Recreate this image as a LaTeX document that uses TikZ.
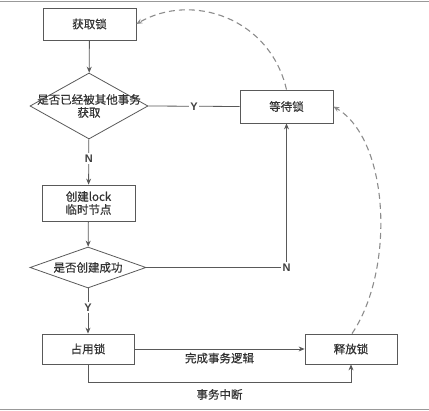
\documentclass[tikz,border=0pt]{standalone}
\usepackage{fontspec}
\setmainfont{Noto Sans CJK SC}[FakeBold=0.6]
\newfontfamily\latinsans{Liberation Sans}
\usepackage{tikz}
\usetikzlibrary{arrows.meta,shapes.geometric,positioning,calc}

\begin{document}
\begin{tikzpicture}[x=1pt,y=-1pt,
  line/.style={draw=black!65, line width=0.8pt},
  arr/.style={line, -{Stealth[length=6pt,width=5pt]}},
  box/.style={line, rectangle, minimum width=93pt, font=\fontsize{11.5}{13}\selectfont, text=black!80, align=center, inner sep=2pt},
  cond/.style={line, diamond, inner sep=0pt, font=\fontsize{11.5}{13}\selectfont, text=black!80},
  yn/.style={font=\latinsans\bfseries\fontsize{11}{12}\selectfont, text=black!75, fill=white, inner sep=1.5pt},
  note/.style={font=\fontsize{11.5}{13}\selectfont, text=black!80},
  back/.style={draw=black!45, line width=1.1pt, dash pattern=on 6pt off 4pt, -{Stealth[length=6pt,width=5pt]}}]
\useasboundingbox (0,0) rectangle (429,411);
% scan border
\draw[black!40, line width=1.5pt] (0,1.5) -- (429,1.5);
\draw[black!40, line width=1.5pt] (0,409.5) -- (429,409.5);
% boxes
\node[box, minimum height=32pt] (get) at (89.5,24) {获取锁};
\node[cond, minimum width=118pt, minimum height=66pt,
  label={[note, align=center]center:是否已经被其他事务\\获取}] (taken) at (89,106) {};
\node[box, minimum height=33pt] (wait) at (286.5,106.5) {等待锁};
\node[box, minimum height=36pt] (create) at (88.5,203) {创建lock\\临时节点};
\node[cond, minimum width=116pt, minimum height=41pt,
  label={[note]center:是否创建成功}] (ok) at (88,267.5) {};
\node[box, minimum width=92pt, minimum height=30pt] (hold) at (88,349) {占用锁};
\node[box, minimum width=92pt, minimum height=30pt] (release) at (351,349) {释放锁};
% main flow
\draw[arr] (get) -- (taken);
\draw[line] (taken.east) -- node[yn] {Y} (wait.west);
\draw[arr] (taken) -- node[yn, pos=0.42] {N} (create);
\draw[arr] (create) -- (ok);
\draw[arr] (ok) -- node[yn, pos=0.42] {Y} (hold);
\coordinate (corner) at (wait.south |- ok.east);
\draw[arr] (ok.east) -- (corner) node[yn] {N} -- (wait.south);
\draw[arr] (hold.east) -- node[note, below=0pt] {完成事务逻辑} (release.west);
\coordinate (lowL) at ($(hold.south)+(0,18)$);
\coordinate (lowR) at (release.south |- lowL);
\draw[arr] (hold.south) -- (lowL) -- node[note, below=3pt] {事务中断} (lowR) -- (release.south);
% dashed returns
\draw[back] (wait.north) .. controls (270,18) and (192,-8) .. (get.east);
\draw[back] ($(release.north)+(1,0)$) .. controls (395,270) and (390,140) .. (wait.east);
\end{tikzpicture}
\end{document}
